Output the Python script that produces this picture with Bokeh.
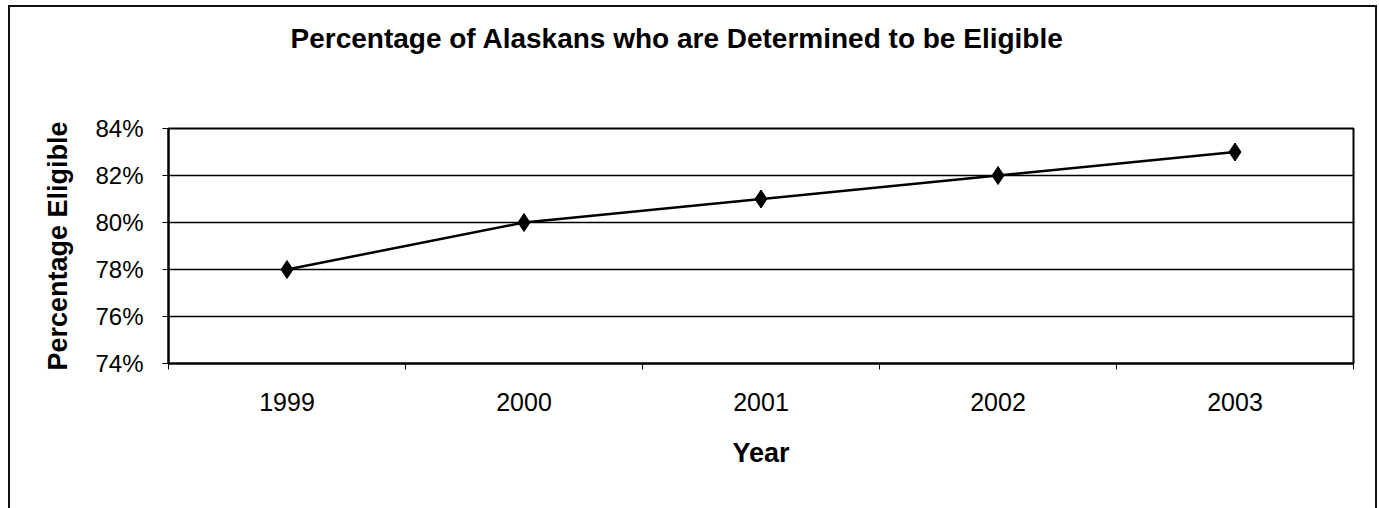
from bokeh.plotting import figure
from bokeh.models import FixedTicker, NumeralTickFormatter, Range1d, Title
from bokeh.embed import file_html
from bokeh.resources import INLINE

title_text = "Percentage of Alaskans who are Determined to be Eligible"
years = ["1999", "2000", "2001", "2002", "2003"]
pct_eligible = [0.78, 0.80, 0.81, 0.82, 0.83]
y_ticks = [0.74, 0.76, 0.78, 0.80, 0.82, 0.84]
y_min, y_max = 0.74, 0.84

xs = [i + 0.5 for i in range(len(years))]

FONT = "Liberation Sans"

p = figure(width=1369, height=503, output_backend="svg", toolbar_location=None,
           x_range=Range1d(0, len(years)), y_range=Range1d(y_min, y_max),
           min_border_left=158, min_border_right=26, min_border_top=121, min_border_bottom=147)

p.styles = {"border": "2px solid #111111", "border-bottom": "none",
            "box-sizing": "border-box", "margin-left": "8px", "margin-top": "5px"}
p.background_fill_color = "white"
p.border_fill_color = "white"
p.outline_line_color = "black"
p.outline_line_width = 2

# empty spacer panel between the frame and the title
p.add_layout(Title(text=" ", text_font=FONT, text_font_size="28px", standoff=25), "above")
# the chart title (added last, so it sits outermost)
p.add_layout(Title(text=title_text, align="left", offset=122, vertical_align="top",
                   text_font=FONT, text_font_size="28px", text_font_style="bold",
                   text_color="black", standoff=30), "above")

# x axis
p.xaxis.ticker = FixedTicker(ticks=xs, minor_ticks=list(range(0, len(years) + 1)))
p.xaxis.major_label_overrides = {x: y for x, y in zip(xs, years)}
p.xaxis.major_tick_in = 0
p.xaxis.major_tick_out = 0
p.xaxis.minor_tick_in = 0
p.xaxis.minor_tick_out = 6
p.xaxis.minor_tick_line_color = "black"
p.xaxis.axis_line_color = "black"
p.xaxis.axis_line_width = 2
p.xaxis.major_label_text_font = FONT
p.xaxis.major_label_text_font_size = "25px"
p.xaxis.major_label_text_color = "black"
p.xaxis.major_label_standoff = 23
p.xaxis.axis_label = "Year"
p.xaxis.axis_label_text_font = FONT
p.xaxis.axis_label_text_font_size = "27px"
p.xaxis.axis_label_text_font_style = "bold"
p.xaxis.axis_label_text_color = "black"
p.xaxis.axis_label_standoff = 24

# y axis
p.yaxis.ticker = FixedTicker(ticks=y_ticks)
p.yaxis.formatter = NumeralTickFormatter(format="0%")
p.yaxis.major_tick_in = 0
p.yaxis.major_tick_out = 6
p.yaxis.major_tick_line_color = "black"
p.yaxis.minor_tick_line_color = None
p.yaxis.axis_line_color = "black"
p.yaxis.axis_line_width = 2
p.yaxis.major_label_text_font = FONT
p.yaxis.major_label_text_font_size = "24px"
p.yaxis.major_label_text_color = "black"
p.yaxis.major_label_standoff = 19
p.yaxis.axis_label = "Percentage Eligible"
p.yaxis.axis_label_text_font = FONT
p.yaxis.axis_label_text_font_size = "27px"
p.yaxis.axis_label_text_font_style = "bold"
p.yaxis.axis_label_text_color = "black"
p.yaxis.axis_label_standoff = 19

p.xgrid.grid_line_color = None
p.ygrid.grid_line_color = "black"
p.ygrid.grid_line_width = 1.5
p.ygrid.grid_line_alpha = 1.0

p.line(xs, pct_eligible, line_color="black", line_width=2.5)
p.scatter(xs, pct_eligible, marker="diamond", size=18, fill_color="black", line_color="black")

open("out.html", "w").write(file_html(p, INLINE))
